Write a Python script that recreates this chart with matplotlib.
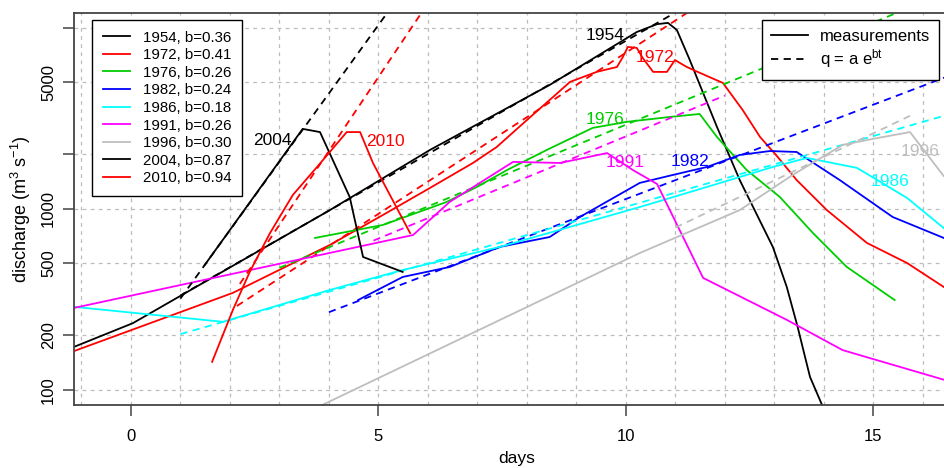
import numpy as np
import matplotlib
matplotlib.use("Agg")
import matplotlib.pyplot as plt
from matplotlib.lines import Line2D

plt.rcParams['font.family'] = ['Liberation Sans', 'DejaVu Sans']
plt.rcParams['mathtext.fontset'] = 'custom'
plt.rcParams['mathtext.rm'] = 'Liberation Sans'
plt.rcParams['mathtext.it'] = 'Liberation Sans:italic'

d1954 = [-1.15, 0.04, 4.02, 6.04, 8.46, 10.22, 10.63, 10.85, 11.03, 11.29, 11.56, 11.84,
         12.10, 12.30, 12.57, 12.97, 13.25, 13.47, 13.62, 13.72, 13.96]
q1954 = [173, 234, 986, 2118, 4845, 9500, 10500, 10670, 9750, 6660, 4375, 2840,
         1940, 1445, 1025, 616, 371, 223, 152, 118, 83]

d1972 = [-1.15, 2.06, 4.02, 5.09, 6.04, 6.91, 7.39, 8.0, 8.53, 8.87, 9.41, 9.82, 9.94,
         10.04, 10.22, 10.34, 10.55, 10.83, 10.99, 11.23, 11.45, 11.96, 12.36, 12.71,
         13.05, 13.45, 14.06, 14.87, 15.68, 16.42]
q1972 = [164, 344, 633, 926, 1306, 1796, 2200, 3100, 4160, 5035, 5720, 6090, 6920,
         7860, 7760, 6830, 5720, 5720, 6650, 6090, 5720, 4970, 3520, 2500,
         1963, 1445, 986, 649, 503, 371]

d1976 = [3.72, 5.09, 6.38, 6.99, 7.60, 8.40, 9.33, 10.02, 10.89, 11.49, 11.84, 12.44,
         13.11, 13.78, 14.46, 15.43]
q1976 = [692, 816, 1094, 1324, 1642, 2118, 2806, 3030, 3225, 3349, 2500, 1642,
         1165, 736, 479, 314]

d1982 = [4.59, 5.49, 6.44, 7.45, 8.46, 9.07, 10.28, 10.95, 11.64, 12.30, 12.91, 13.45,
         14.32, 15.39, 16.42]
q1982 = [314, 421, 478, 617, 700, 903, 1393, 1542, 1707, 1988, 2090, 2065,
         1445, 903, 692]

d1986 = [-1.15, 1.86, 4.02, 5.49, 7.45, 10.28, 11.64, 12.97, 13.66, 14.67, 15.68, 16.42]
q1986 = [288, 238, 357, 460, 617, 1025, 1324, 1707, 1914, 1686, 1151, 785]

d1991 = [-1.15, 5.70, 6.44, 7.72, 8.67, 9.62, 10.14, 10.63, 11.56, 13.25, 14.38, 16.42]
q1991 = [284, 718, 1094, 1820, 1796, 2037, 1642, 1374, 416, 244, 166, 114]

d1996 = [3.5, 10.28, 12.30, 13.37, 14.38, 14.99, 15.74, 16.42]
q1996 = [74, 571, 986, 1542, 2260, 2440, 2660, 1522]

d2004 = [1.49, 3.47, 3.82, 4.42, 4.69, 5.49]
q2004 = [490, 2770, 2660, 1165, 543, 449]

d2010 = [1.64, 2.06, 2.40, 2.81, 3.27, 3.76, 4.36, 4.63, 4.89, 5.64]
q2010 = [143, 277, 449, 736, 1194, 1706, 2660, 2660, 1796, 736]

years = ['1954', '1972', '1976', '1982', '1986', '1991', '1996', '2004', '2010']
days = [d1954, d1972, d1976, d1982, d1986, d1991, d1996, d2004, d2010]
flows = [q1954, q1972, q1976, q1982, q1986, q1991, q1996, q2004, q2010]

# exponential fits q = a*exp(b*t) and the day span they are drawn over
b_fit = [0.36, 0.41, 0.26, 0.24, 0.18, 0.26, 0.30, 0.87, 0.94]
a_fit = [232, 121, 217, 103, 170, 187, 29.1, 134, 48.7]
t_start = [1.0, 2.14, 3.0, 4.0, 1.0, 4.9, 11.0, 1.0, 2.2]
t_end = [11.2, 11.6, 15.6, 18.0, 18.0, 12.0, 15.75, 5.9, 5.9]

colors = ['black', 'red', '#00cd00', 'blue', 'cyan', 'magenta', '#bebebe', 'black', 'red']

# label positions on the curves
lab_day = [9.58, 10.59, 9.58, 11.29, 15.33, 9.98, 15.95, 2.85, 5.15]
lab_q = [9140, 6830, 3102, 1820, 1410, 1796, 2065, 2377, 2345]

fig = plt.figure(figsize=(9.44, 4.68), dpi=100)
ax = fig.add_axes([74/944, 63/468, 886/944, 392/468])

# grid
for d in range(-1, 17):
    ax.axvline(d, color='#bcbcbc', lw=0.9, ls=(0, (3, 3.5)), zorder=0)
for q in [100, 200, 500, 1000, 2000, 5000, 10000]:
    ax.axhline(q, color='#bcbcbc', lw=0.9, ls=(0, (3, 3.5)), zorder=0)

handles = []
for i in range(len(years)):
    ln, = ax.plot(days[i], flows[i], color=colors[i], lw=1.3)
    handles.append(ln)
    t = np.linspace(t_start[i], t_end[i], 50)
    ax.plot(t, a_fit[i]*np.exp(b_fit[i]*t), color=colors[i], lw=1.3, ls=(0, (4, 3)))
    ax.text(lab_day[i], lab_q[i], years[i], color=colors[i], fontsize=12.5,
            ha='center', va='center')

ax.set_yscale('log')
ax.set_xlim(-1.15, 16.75)
ax.set_ylim(82.6, 12100)

ax.set_xticks([0, 5, 10, 15])
ax.set_xticklabels(['0', '5', '10', '15'], fontsize=12)
ax.set_yticks([100, 200, 500, 1000, 2000, 5000, 10000])
ax.set_yticklabels(['100', '200', '500', '1000', '', '5000', ''], fontsize=12,
                   rotation=90, va='center')
ax.minorticks_off()
ax.tick_params(axis='x', length=8, width=1.1, color='#444444', pad=9)
ax.tick_params(axis='y', length=8, width=1.1, color='#444444', pad=5)
for s in ax.spines.values():
    s.set_color('#444444')
    s.set_linewidth(1.3)

ax.set_xlabel('days', fontsize=12.5, labelpad=5)
ax.set_ylabel('discharge (m$^3$ s$^{-1}$)', fontsize=13, labelpad=6)

labels = [y + ', b=%.2f' % b for y, b in zip(years, b_fit)]
leg1 = ax.legend(handles, labels, loc='upper left', bbox_to_anchor=(92/944, 1-20/468),
                 bbox_transform=fig.transFigure, borderaxespad=0, fancybox=False,
                 edgecolor='black', framealpha=1, fontsize=10.8, handlelength=1.8,
                 handletextpad=0.9, labelspacing=0.24, borderpad=0.7)
leg1.get_frame().set_linewidth(1.0)
ax.add_artist(leg1)

h2 = [Line2D([], [], color='black', lw=1.3),
      Line2D([], [], color='black', lw=1.3, ls=(0, (4, 3)))]
leg2 = ax.legend(h2, ['measurements', 'q = a e$^{\\rm bt}$'], loc='upper left',
                 bbox_to_anchor=(762/944, 1-20/468), bbox_transform=fig.transFigure,
                 borderaxespad=0, fancybox=False, edgecolor='black', framealpha=1,
                 fontsize=12, handlelength=2.2, handletextpad=0.7, labelspacing=0.2,
                 borderpad=0.55)
leg2.get_frame().set_linewidth(1.0)

fig.savefig('out.png', dpi=100)
